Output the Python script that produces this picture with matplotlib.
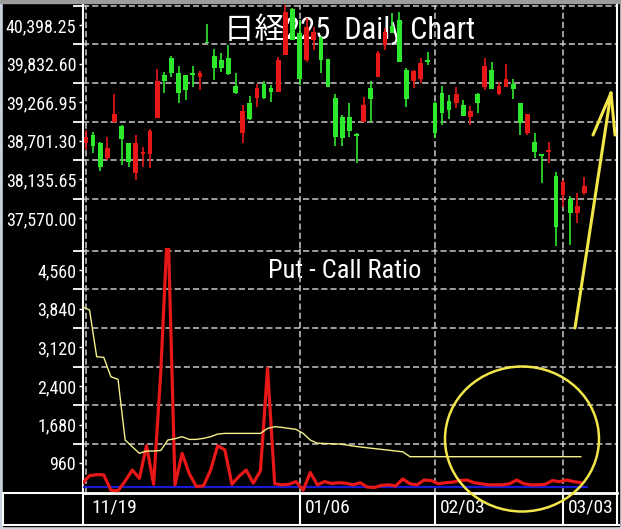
import numpy as np
import matplotlib
matplotlib.use("Agg")
import matplotlib.pyplot as plt
from matplotlib import font_manager
from matplotlib.patches import Ellipse, Rectangle
from matplotlib.lines import Line2D
from matplotlib.transforms import offset_copy

# --- daily candles, 11/19 .. 03/06 ---
opens = [38669, 38786, 38669, 38450, 38977, 38918, 38669, 38230, 38508, 38508,
         39036, 39666, 39915, 39695, 39666, 39695, 39637, 40156, 39944, 39885,
         39915, 39505, 38816, 39255, 39329, 39534, 39475, 39417, 39959, 40633,
         40281, 39885, 40178, 40208, 39900, 39329, 39050, 39050, 38801, 38977,
         39475, 39637, 40105, 40383, 40471, 39739, 39578, 39607, 39885, 39255,
         39402, 39285, 39255, 39226, 39050, 39388, 39490, 39739, 39388, 39490,
         39534, 39255, 38816, 38684, 38501, 38537, 38186, 37908, 37849, 37644, 37937]
highs = [38860, 38830, 38684, 38757, 39388, 38933, 38669, 38786, 38611, 38874,
         39754, 39710, 39944, 39797, 39666, 39797, 39724, 40413, 40047, 39988,
         40105, 39695, 39226, 39358, 39534, 39578, 39519, 39929, 40706, 40647,
         40471, 40501, 40369, 40237, 39900, 39388, 39080, 39255, 38816, 39344,
         39578, 40017, 40354, 40574, 40588, 39768, 39739, 39915, 40003, 39270,
         39505, 39373, 39490, 39300, 39212, 39402, 39915, 39856, 39563, 39827,
         39607, 39255, 39094, 38816, 38508, 38684, 38245, 38127, 37893, 37937, 38171]
lows = [38567, 38523, 38259, 38420, 38962, 38347, 38318, 38127, 38318, 38303,
        39036, 39402, 39637, 39255, 39300, 39490, 39446, 40134, 39593, 39710,
        39666, 39388, 38669, 39006, 39197, 39314, 39270, 39417, 39959, 40178,
        39519, 39856, 40032, 39695, 39490, 38625, 38625, 38757, 38376, 38977,
        38977, 39637, 40032, 40281, 39856, 39197, 39475, 39549, 39812, 38742,
        38933, 39021, 39182, 39065, 38933, 39109, 39446, 39461, 39373, 39490,
        39314, 38786, 38786, 38450, 38084, 38376, 37160, 37732, 37175, 37497, 37908]
closes = [38757, 38625, 38318, 38596, 39094, 38728, 38391, 38669, 38537, 38845,
          39578, 39578, 39695, 39402, 39446, 39666, 39695, 40134, 39768, 39768,
          39681, 39402, 39138, 39021, 39475, 39329, 39417, 39885, 40588, 40178,
          39607, 40369, 40296, 39885, 39490, 38757, 38742, 38845, 38772, 39226,
          39314, 39988, 40296, 40281, 39856, 39314, 39724, 39841, 39856, 38816,
          39109, 39153, 39388, 39065, 39138, 39255, 39797, 39461, 39505, 39607,
          39461, 38962, 39094, 38537, 38487, 38567, 37439, 38098, 37644, 37747, 38040]

date_ticks = [0, 30, 49, 67]
date_labels = ["11/19", "01/06", "02/03", "03/03"]
price_ticks = [40398.25, 39832.60, 39266.95, 38701.30, 38135.65, 37570.00]
ratio_ticks = [4560, 3840, 3120, 2400, 1680, 960]

# --- put/call ratio panel ---
ratio_red = [590, 730, 750, 745, 460, 450, 630, 835, 680, 1290,
             570, 2650, 5500, 560, 1145, 770, 530, 540, 835, 1290,
             1210, 570, 720, 835, 590, 820, 2730, 580, 560, 570,
             620, 460, 790, 560, 620, 585, 600, 590, 560, 600,
             520, 510, 550, 560, 540, 670, 580, 560, 650, 640,
             580, 600, 610, 640, 650, 600, 580, 560, 560, 560,
             580, 650, 580, 560, 560, 570, 640, 620, 650, 620, 600]
ratio_yellow = [3877, 3815, 2946, 2933, 2573, 2524, 1394, 1270, 1146, 1189,
                1189, 1200, 1394, 1419, 1456, 1406, 1406, 1425, 1456, 1506,
                1518, 1518, 1518, 1518, 1518, 1518, 1611, 1642, 1630, 1611,
                1593, 1518, 1394, 1335, 1330, 1325, 1320, 1305, 1282, 1265,
                1250, 1235, 1220, 1205, 1190, 1175, 1084, 1084, 1084, 1084,
                1084, 1084, 1084, 1084, 1084, 1084, 1084, 1084, 1084, 1084,
                1084, 1084, 1084, 1084, 1084, 1084, 1084, 1084, 1084, 1084, 1084]
ratio_base = 525

installed = {f.name for f in font_manager.fontManager.ttflist}
narrow = next((n for n in ["Liberation Sans Narrow", "Roboto Condensed", "Liberation Sans"]
               if n in installed), "DejaVu Sans")
plt.rcParams["font.family"] = [narrow, "Noto Sans CJK JP", "DejaVu Sans"]

W, H = 621, 529


def fx(px):
    return px / W


def fy(py):
    return 1 - py / H


RED = "#e81818"
GREEN = "#2ee82e"
GRID = dict(color="#c8c8c8", linestyle=(0, (4, 2)), linewidth=1.1)

fig = plt.figure(figsize=(W / 100, H / 100), dpi=100, facecolor="#c8d2de")
fig.add_artist(Rectangle((fx(3), fy(526)), fx(619) - fx(3), fy(3) - fy(526),
                         transform=fig.transFigure, color="black", zorder=-1))
fig.add_artist(Rectangle((0, fy(3)), 1, fy(0) - fy(3),
                         transform=fig.transFigure, color="#9c9c9c", zorder=-1))

ax1 = fig.add_axes([fx(83), fy(248), fx(617) - fx(83), fy(5) - fy(248)])
ax2 = fig.add_axes([fx(83), fy(493), fx(617) - fx(83), fy(248) - fy(493)])

for ax in (ax1, ax2):
    ax.set_facecolor("black")
    ax.set_xlim(-0.42, 74.58)
    ax.set_xticks(date_ticks)
    ax.tick_params(axis="x", length=0, labelbottom=False)
    ax.grid(True, which="major", axis="x", **GRID)
    ax.grid(True, which="minor", axis="y", **GRID)
    ax.tick_params(axis="y", which="major", direction="out", length=2.9, width=1,
                   colors="white", labelsize=13, pad=2)
    ax.tick_params(axis="y", which="minor", direction="out", length=7, width=1.3,
                   color="white")
    for s in ("top", "bottom"):
        ax.spines[s].set_visible(False)
    for s in ("left", "right"):
        ax.spines[s].set_color("white")
        ax.spines[s].set_linewidth(1.5)

# candles
x = np.arange(len(opens))
o, h, l, c = map(np.array, (opens, highs, lows, closes))
cols = np.where(c >= o, RED, GREEN)
ax1.vlines(x, l, h, colors=cols, lw=1.2, zorder=3)
body = np.abs(c - o)
bot = np.minimum(o, c) - np.clip(22 - body, 0, None) / 2
ax1.bar(x, np.maximum(body, 22), bottom=bot, width=0.66, color=cols, lw=0, zorder=4)

ax1.set_ylim(37131, 40691)
ax1.set_yticks(price_ticks)
ax1.set_yticklabels([f"{v:,.2f}" for v in price_ticks])
ax1.set_yticks([v + 282.825 for v in price_ticks], minor=True)
ax1.text(0.5, 0.901, "日経225  Daily Chart", transform=ax1.transAxes,
         ha="center", va="center", color="white", fontsize=22, zorder=1)

# put / call ratio
px = x - 0.5
ax2.hlines(ratio_base, px[0], px[-1] + 1, color="#1a1ad0", lw=1.6, zorder=3)
ax2.plot(px, ratio_red, color=RED, lw=2.3, zorder=4)
ax2.plot(px, ratio_yellow, color="#f4f08a", lw=1.0, zorder=5)
ax2.set_ylim(408, 4970)
ax2.set_yticks(ratio_ticks)
ax2.set_yticklabels([f"{v:,}" for v in ratio_ticks])
ax2.set_yticks([v + 360 for v in ratio_ticks], minor=True)
ax2.spines["bottom"].set_visible(True)
ax2.spines["bottom"].set_color("white")
ax2.spines["bottom"].set_linewidth(2)
ax2.text(0.49, 0.906, "Put - Call Ratio", transform=ax2.transAxes,
         ha="center", va="center", color="white", fontsize=19, zorder=1)

# date strip
xt = ax2.get_xaxis_transform()
for d in date_ticks[1:]:
    ax2.plot([d, d], [0, -32 / 245], transform=xt, color="white", lw=1.5, clip_on=False)
lab_t = offset_copy(xt, fig=fig, x=5, y=-5, units="dots")
for d, s in zip(date_ticks, date_labels):
    ax2.text(d, 0, s, transform=lab_t, ha="left", va="top", color="white", fontsize=14)

frame = [((83, 83), (493, 525)), ((617, 617), (493, 525)), ((3, 83), (493, 493)),
         ((3, 619), (525, 525)), ((3, 3), (493, 525))]
for xs, ys in frame:
    fig.add_artist(Line2D([fx(v) for v in xs], [fy(v) for v in ys],
                          transform=fig.transFigure, color="white", lw=1.5, zorder=6))

# hand drawn marks
YEL = "#f2e64a"
fig.add_artist(Ellipse((fx(522), fy(439)), 154 / W, 145 / H, transform=fig.transFigure,
                       fill=False, ec=YEL, lw=1.8, zorder=7))
for xs, ys in [((575, 611), (328, 93)), ((611, 593), (93, 135)), ((611, 615), (93, 135))]:
    fig.add_artist(Line2D([fx(v) for v in xs], [fy(v) for v in ys],
                          transform=fig.transFigure, color=YEL, lw=2.2,
                          solid_capstyle="round", zorder=7))

fig.savefig("out.png", dpi=100, facecolor=fig.get_facecolor())
